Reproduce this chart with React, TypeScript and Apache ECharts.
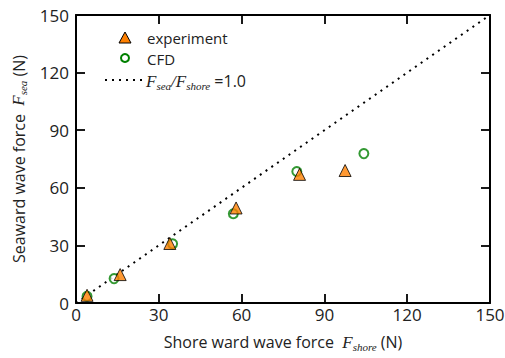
import React, { useEffect, useRef } from "react";
import * as echarts from "echarts";

const expShore = [4, 16, 34, 58, 81, 97.5];
const expSea = [4, 14.8, 31, 49.5, 67, 69];
const cfdShore = [4, 13.8, 35, 57, 80, 104.3];
const cfdSea = [3.5, 12.7, 30.8, 46.5, 68.5, 77.8];
const refLine = [0, 150];
const xTicks = [0, 30, 60, 90, 120, 150];
const legendNames = ["experiment", "CFD"];

const FONT = "Open Sans";

const richName = {
  t: { fontFamily: FONT, fontSize: 16, color: "#222" },
  F: { fontFamily: "Liberation Serif", fontStyle: "italic", fontSize: 17, color: "#222" },
  s: { fontFamily: "Liberation Serif", fontStyle: "italic", fontSize: 11, color: "#222", padding: [9, 0, 0, 0] },
};

export default function App() {
  const ref = useRef<HTMLDivElement>(null);
  useEffect(() => {
    const chart = echarts.init(ref.current!, null, { renderer: "svg" });
    const mkAxis = (position: string, labels: boolean, extra: any = {}) => ({
      type: "value",
      position,
      min: xTicks[0],
      max: xTicks[xTicks.length - 1],
      interval: 30,
      splitLine: { show: false },
      axisLine: { show: true, onZero: false, lineStyle: { color: "#000", width: 2 } },
      axisTick: { show: true, inside: true, length: 9, lineStyle: { color: "#000", width: 1.8 } },
      axisLabel: labels
        ? { show: true, fontFamily: FONT, fontSize: 17, color: "#222", margin: position === "bottom" ? 3 : 7 }
        : { show: false },
      ...extra,
    });
    chart.setOption({
      animation: false,
      backgroundColor: "#fff",
      grid: { left: 76, right: 15, top: 15, bottom: 55, outerBoundsMode: "none" },
      xAxis: [
        mkAxis("bottom", true, {
          name: "{t|Shore ward wave force  }{F|F}{s|shore}{t| (N)}",
          nameLocation: "middle",
          nameGap: 29,
          nameTextStyle: { rich: richName },
        }),
        mkAxis("top", false),
      ],
      yAxis: [
        mkAxis("left", true, {
          name: "{t|Seaward wave force  }{F|F}{s|sea}{t| (N)}",
          nameLocation: "middle",
          nameGap: 47,
          nameRotate: 90,
          nameTextStyle: { rich: richName },
        }),
        mkAxis("right", false),
      ],
      graphic: [
        { type: "polygon", shape: { points: [[125, 32], [119, 43], [131, 43]] }, style: { fill: "#ff8000", stroke: "#000", lineWidth: 1 } },
        { type: "text", x: 147, y: 38, style: { text: legendNames[0], font: `15px '${FONT}'`, fill: "#222", verticalAlign: "middle" } },
        { type: "circle", shape: { cx: 125, cy: 58, r: 4 }, style: { fill: "#fff", stroke: "#008000", lineWidth: 2 } },
        { type: "text", x: 147, y: 59, style: { text: legendNames[1], font: `15px '${FONT}'`, fill: "#222", verticalAlign: "middle" } },
        { type: "line", shape: { x1: 105, y1: 80, x2: 143, y2: 80 }, style: { stroke: "#000", lineWidth: 2, lineDash: [2, 5] } },
        {
          type: "text",
          x: 146,
          y: 81,
          style: {
            text: "{F|F}{s|sea}{F|/}{F|F}{s|shore}{n| =1.0}",
            verticalAlign: "middle",
            rich: {
              F: { fontFamily: "Liberation Serif", fontStyle: "italic", fontSize: 17, fill: "#222" },
              s: { fontFamily: "Liberation Serif", fontStyle: "italic", fontSize: 11, fill: "#222", padding: [9, 0, 0, 0] },
              n: { fontFamily: FONT, fontSize: 16, fill: "#222" },
            },
          },
        },
      ],
      series: [
        {
          name: "ratio",
          type: "line",
          data: refLine.map((v) => [v, v]),
          showSymbol: false,
          symbol: "none",
          lineStyle: { color: "#000", width: 2, type: [2, 5] },
          z: 1,
        },
        {
          name: "CFD",
          type: "scatter",
          data: cfdShore.map((x, i) => [x, cfdSea[i]]),
          symbol: "circle",
          symbolSize: 9,
          itemStyle: { color: "#fff", borderColor: "#008000", borderWidth: 2 },
          z: 2,
        },
        {
          name: "experiment",
          type: "scatter",
          data: expShore.map((x, i) => [x, expSea[i]]),
          symbol: "triangle",
          symbolSize: 12,
          itemStyle: { color: "#ff8000", borderColor: "#000", borderWidth: 1 },
          z: 3,
        },
      ],
    });
    return () => chart.dispose();
  }, []);
  return <div ref={ref} style={{ width: 505, height: 358, position: "absolute", left: 0, top: 0 }} />;
}
